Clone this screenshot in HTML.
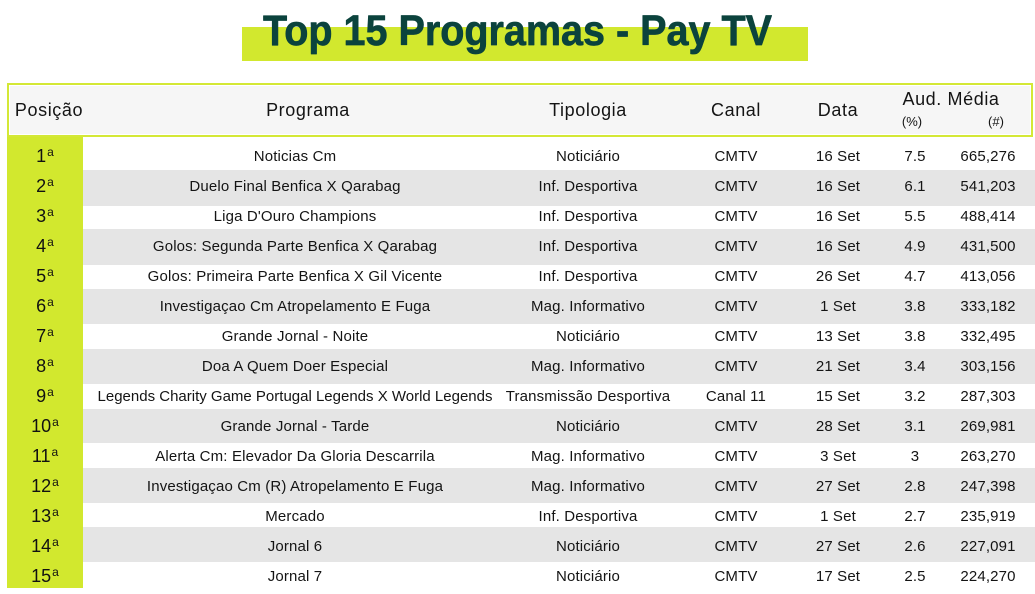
<!DOCTYPE html>
<html><head><meta charset="utf-8"><style>
html,body{margin:0;padding:0;background:#fff;}
body{width:1035px;height:594px;position:relative;overflow:hidden;font-family:"Liberation Sans",sans-serif;color:#141414;}
.a{position:absolute;}
.t{position:absolute;width:400px;text-align:center;white-space:nowrap;font-size:15px;letter-spacing:0.15px;line-height:30px;}
.h{position:absolute;width:300px;text-align:center;white-space:nowrap;font-size:18px;letter-spacing:0.6px;line-height:30px;}
.p{position:absolute;left:7px;width:76px;text-align:center;font-size:18px;line-height:30px;color:#111;}
.p sup{font-size:12px;vertical-align:0;position:relative;top:-6px;margin-left:1px;}
.g{position:absolute;left:83px;width:952px;background:#e5e5e5;}
</style></head><body>
<div class="a" style="left:242px;top:27px;width:566px;height:34px;background:#d2e82e;"></div>
<svg class="a" style="left:0;top:0" width="1035" height="70"><text x="263" y="45" font-family="Liberation Sans" font-weight="bold" font-size="43" fill="#0b433d" stroke="#0b433d" stroke-width="0.7" stroke-linejoin="round" textLength="509" lengthAdjust="spacingAndGlyphs">Top 15 Programas - Pay TV</text></svg>

<div class="a" style="left:7px;top:83px;width:1022px;height:50px;border:2px solid #d4e836;background:#f6f6f6;box-shadow:inset 0 0 0 1px #fff;"></div>
<div class="h" style="left:-101px;top:95px;">Posição</div>
<div class="h" style="left:158px;top:95px;">Programa</div>
<div class="h" style="left:438px;top:95px;">Tipologia</div>
<div class="h" style="left:586px;top:95px;">Canal</div>
<div class="h" style="left:688px;top:95px;">Data</div>
<div class="h" style="left:801px;top:84px;">Aud. Média</div>
<div class="a" style="left:892px;top:114px;width:40px;text-align:center;font-size:13px;">(%)</div>
<div class="a" style="left:976px;top:114px;width:40px;text-align:center;font-size:13px;">(#)</div>

<div class="a" style="left:7px;top:137px;width:76px;height:451px;background:#d2e82e;"></div>
<div class="g" style="top:170px;height:36px"></div>
<div class="g" style="top:229px;height:36px"></div>
<div class="g" style="top:289px;height:35px"></div>
<div class="g" style="top:349px;height:35px"></div>
<div class="g" style="top:409px;height:34px"></div>
<div class="g" style="top:468px;height:35px"></div>
<div class="g" style="top:527px;height:35px"></div>

<div class="p" style="top:141px">1<sup>a</sup></div>
<div class="p" style="top:171px">2<sup>a</sup></div>
<div class="p" style="top:201px">3<sup>a</sup></div>
<div class="p" style="top:231px">4<sup>a</sup></div>
<div class="p" style="top:261px">5<sup>a</sup></div>
<div class="p" style="top:291px">6<sup>a</sup></div>
<div class="p" style="top:321px">7<sup>a</sup></div>
<div class="p" style="top:351px">8<sup>a</sup></div>
<div class="p" style="top:381px">9<sup>a</sup></div>
<div class="p" style="top:411px">10<sup>a</sup></div>
<div class="p" style="top:441px">11<sup>a</sup></div>
<div class="p" style="top:471px">12<sup>a</sup></div>
<div class="p" style="top:501px">13<sup>a</sup></div>
<div class="p" style="top:531px">14<sup>a</sup></div>
<div class="p" style="top:561px">15<sup>a</sup></div>

<div class="t" style="left:95px;top:142px">Noticias Cm</div>
<div class="t" style="left:388px;top:142px">Noticiário</div>
<div class="t" style="left:536px;top:142px">CMTV</div>
<div class="t" style="left:638px;top:142px">16 Set</div>
<div class="t" style="left:715px;top:142px">7.5</div>
<div class="t" style="left:788px;top:142px">665,276</div>

<div class="t" style="left:95px;top:172px">Duelo Final Benfica X Qarabag</div>
<div class="t" style="left:388px;top:172px">Inf. Desportiva</div>
<div class="t" style="left:536px;top:172px">CMTV</div>
<div class="t" style="left:638px;top:172px">16 Set</div>
<div class="t" style="left:715px;top:172px">6.1</div>
<div class="t" style="left:788px;top:172px">541,203</div>

<div class="t" style="left:95px;top:202px">Liga D'Ouro Champions</div>
<div class="t" style="left:388px;top:202px">Inf. Desportiva</div>
<div class="t" style="left:536px;top:202px">CMTV</div>
<div class="t" style="left:638px;top:202px">16 Set</div>
<div class="t" style="left:715px;top:202px">5.5</div>
<div class="t" style="left:788px;top:202px">488,414</div>

<div class="t" style="left:95px;top:232px">Golos: Segunda Parte Benfica X Qarabag</div>
<div class="t" style="left:388px;top:232px">Inf. Desportiva</div>
<div class="t" style="left:536px;top:232px">CMTV</div>
<div class="t" style="left:638px;top:232px">16 Set</div>
<div class="t" style="left:715px;top:232px">4.9</div>
<div class="t" style="left:788px;top:232px">431,500</div>

<div class="t" style="left:95px;top:262px">Golos: Primeira Parte Benfica X Gil Vicente</div>
<div class="t" style="left:388px;top:262px">Inf. Desportiva</div>
<div class="t" style="left:536px;top:262px">CMTV</div>
<div class="t" style="left:638px;top:262px">26 Set</div>
<div class="t" style="left:715px;top:262px">4.7</div>
<div class="t" style="left:788px;top:262px">413,056</div>

<div class="t" style="left:95px;top:292px">Investigaçao Cm Atropelamento E Fuga</div>
<div class="t" style="left:388px;top:292px">Mag. Informativo</div>
<div class="t" style="left:536px;top:292px">CMTV</div>
<div class="t" style="left:638px;top:292px">1 Set</div>
<div class="t" style="left:715px;top:292px">3.8</div>
<div class="t" style="left:788px;top:292px">333,182</div>

<div class="t" style="left:95px;top:322px">Grande Jornal - Noite</div>
<div class="t" style="left:388px;top:322px">Noticiário</div>
<div class="t" style="left:536px;top:322px">CMTV</div>
<div class="t" style="left:638px;top:322px">13 Set</div>
<div class="t" style="left:715px;top:322px">3.8</div>
<div class="t" style="left:788px;top:322px">332,495</div>

<div class="t" style="left:95px;top:352px">Doa A Quem Doer Especial</div>
<div class="t" style="left:388px;top:352px">Mag. Informativo</div>
<div class="t" style="left:536px;top:352px">CMTV</div>
<div class="t" style="left:638px;top:352px">21 Set</div>
<div class="t" style="left:715px;top:352px">3.4</div>
<div class="t" style="left:788px;top:352px">303,156</div>

<div class="t" style="left:95px;top:382px;letter-spacing:0px">Legends Charity Game Portugal Legends X World Legends</div>
<div class="t" style="left:388px;top:382px">Transmissão Desportiva</div>
<div class="t" style="left:536px;top:382px">Canal 11</div>
<div class="t" style="left:638px;top:382px">15 Set</div>
<div class="t" style="left:715px;top:382px">3.2</div>
<div class="t" style="left:788px;top:382px">287,303</div>

<div class="t" style="left:95px;top:412px">Grande Jornal - Tarde</div>
<div class="t" style="left:388px;top:412px">Noticiário</div>
<div class="t" style="left:536px;top:412px">CMTV</div>
<div class="t" style="left:638px;top:412px">28 Set</div>
<div class="t" style="left:715px;top:412px">3.1</div>
<div class="t" style="left:788px;top:412px">269,981</div>

<div class="t" style="left:95px;top:442px">Alerta Cm: Elevador Da Gloria Descarrila</div>
<div class="t" style="left:388px;top:442px">Mag. Informativo</div>
<div class="t" style="left:536px;top:442px">CMTV</div>
<div class="t" style="left:638px;top:442px">3 Set</div>
<div class="t" style="left:715px;top:442px">3</div>
<div class="t" style="left:788px;top:442px">263,270</div>

<div class="t" style="left:95px;top:472px">Investigaçao Cm (R) Atropelamento E Fuga</div>
<div class="t" style="left:388px;top:472px">Mag. Informativo</div>
<div class="t" style="left:536px;top:472px">CMTV</div>
<div class="t" style="left:638px;top:472px">27 Set</div>
<div class="t" style="left:715px;top:472px">2.8</div>
<div class="t" style="left:788px;top:472px">247,398</div>

<div class="t" style="left:95px;top:502px">Mercado</div>
<div class="t" style="left:388px;top:502px">Inf. Desportiva</div>
<div class="t" style="left:536px;top:502px">CMTV</div>
<div class="t" style="left:638px;top:502px">1 Set</div>
<div class="t" style="left:715px;top:502px">2.7</div>
<div class="t" style="left:788px;top:502px">235,919</div>

<div class="t" style="left:95px;top:532px">Jornal 6</div>
<div class="t" style="left:388px;top:532px">Noticiário</div>
<div class="t" style="left:536px;top:532px">CMTV</div>
<div class="t" style="left:638px;top:532px">27 Set</div>
<div class="t" style="left:715px;top:532px">2.6</div>
<div class="t" style="left:788px;top:532px">227,091</div>

<div class="t" style="left:95px;top:562px">Jornal 7</div>
<div class="t" style="left:388px;top:562px">Noticiário</div>
<div class="t" style="left:536px;top:562px">CMTV</div>
<div class="t" style="left:638px;top:562px">17 Set</div>
<div class="t" style="left:715px;top:562px">2.5</div>
<div class="t" style="left:788px;top:562px">224,270</div>
</body></html>
